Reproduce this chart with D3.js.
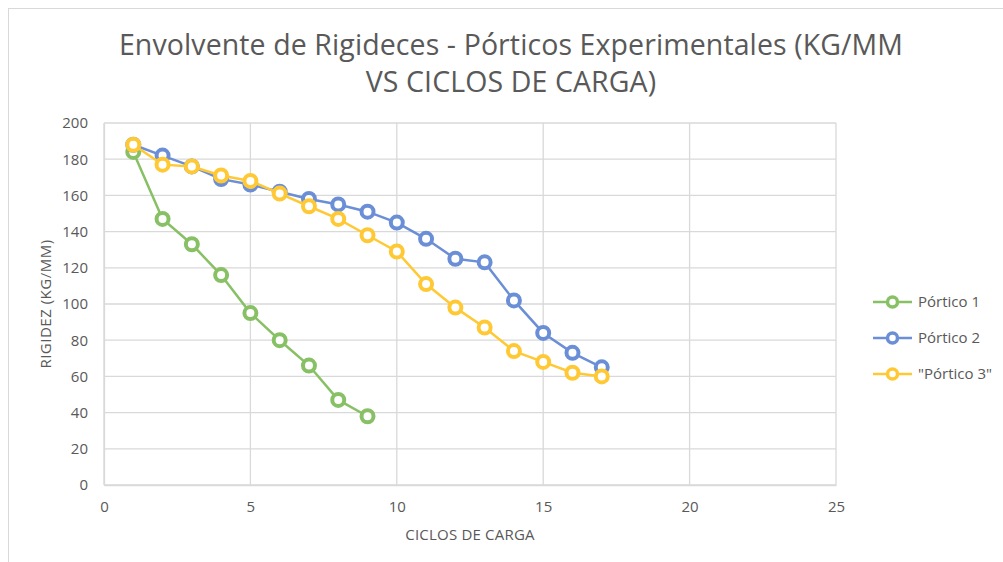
<!DOCTYPE html>
<html>
<head>
<meta charset="utf-8">
<script src="https://cdn.jsdelivr.net/npm/d3@7"></script>
<style>
  html, body { margin: 0; padding: 0; background: #fff; }
  svg { display: block; }
  text { font-family: "Open Sans", "Liberation Sans", sans-serif; fill: #595959; }
</style>
</head>
<body>
<svg id="chart" width="1003" height="562"></svg>
<script>
// Load cycles (x) and stiffness envelopes (kg/mm) per frame
const ciclosP1 = [1, 2, 3, 4, 5, 6, 7, 8, 9];
const rigidezP1 = [184, 147, 133, 116, 95, 80, 66, 47, 38];

const ciclosP2 = [1, 2, 3, 4, 5, 6, 7, 8, 9, 10, 11, 12, 13, 14, 15, 16, 17];
const rigidezP2 = [188, 182, 176, 169, 166, 162, 158, 155, 151, 145, 136, 125, 123, 102, 84, 73, 65];

const ciclosP3 = [1, 2, 3, 4, 5, 6, 7, 8, 9, 10, 11, 12, 13, 14, 15, 16, 17];
const rigidezP3 = [188, 177, 176, 171, 168, 161, 154, 147, 138, 129, 111, 98, 87, 74, 68, 62, 60];

const seriesNames = ["Pórtico 1", "Pórtico 2", "\"Pórtico 3\""];
const seriesColors = ["#88C065", "#6B8FD6", "#FFC935"];

const xTicks = [0, 5, 10, 15, 20, 25];
const yTicks = [0, 20, 40, 60, 80, 100, 120, 140, 160, 180, 200];

const titleLines = ["Envolvente de Rigideces - Pórticos Experimentales (KG/MM", "VS CICLOS DE CARGA)"];
const xTitle = "CICLOS DE CARGA";
const yTitle = "RIGIDEZ (KG/MM)";

const series = [
  { name: seriesNames[0], color: seriesColors[0], xs: ciclosP1, ys: rigidezP1 },
  { name: seriesNames[1], color: seriesColors[1], xs: ciclosP2, ys: rigidezP2 },
  { name: seriesNames[2], color: seriesColors[2], xs: ciclosP3, ys: rigidezP3 }
];

const svg = d3.select("#chart");
const W = 1003, H = 562;
const plot = { left: 104, right: 836, top: 123, bottom: 485 };

// outer frame (top and left edges)
svg.append("line").attr("x1", 8).attr("x2", W).attr("y1", 8.5).attr("y2", 8.5)
  .attr("stroke", "#d9d9d9").attr("stroke-width", 1);
svg.append("line").attr("x1", 8.5).attr("x2", 8.5).attr("y1", 8).attr("y2", H)
  .attr("stroke", "#d9d9d9").attr("stroke-width", 1);

const x = d3.scaleLinear().domain([0, 25]).range([plot.left, plot.right]);
const y = d3.scaleLinear().domain([0, 200]).range([plot.bottom, plot.top]);

// gridlines
const grid = svg.append("g");
grid.selectAll("line.h").data(yTicks).join("line")
  .attr("x1", plot.left).attr("x2", plot.right)
  .attr("y1", d => y(d)).attr("y2", d => y(d))
  .attr("stroke", "#d9d9d9").attr("stroke-width", 1.3);
grid.selectAll("line.v").data(xTicks).join("line")
  .attr("y1", plot.top).attr("y2", plot.bottom)
  .attr("x1", d => x(d)).attr("x2", d => x(d))
  .attr("stroke", "#d9d9d9").attr("stroke-width", 1.3);

// axes
const xAxis = svg.append("g").attr("transform", `translate(0,${plot.bottom})`)
  .call(d3.axisBottom(x).tickValues(xTicks).tickSize(0).tickPadding(16));
const yAxis = svg.append("g").attr("transform", `translate(${plot.left},0)`)
  .call(d3.axisLeft(y).tickValues(yTicks).tickSize(0).tickPadding(16));
[xAxis, yAxis].forEach(a => {
  a.select(".domain").attr("stroke", "#d9d9d9").attr("stroke-width", 1.3);
  a.selectAll("text").attr("font-size", 15).attr("fill", "#595959")
    .attr("font-family", "'Open Sans', sans-serif");
});

// title
svg.append("text").attr("x", 511).attr("y", 0).attr("text-anchor", "middle")
  .attr("font-size", 28.5).attr("letter-spacing", 0.1).attr("fill", "#595959")
  .selectAll("tspan").data(titleLines).join("tspan")
  .attr("x", 511).attr("y", (d, i) => 55 + i * 37).text(d => d);

// axis titles
svg.append("text").attr("x", (plot.left + plot.right) / 2).attr("y", 540)
  .attr("text-anchor", "middle").attr("font-size", 15).attr("letter-spacing", 0.2)
  .attr("fill", "#595959").text(xTitle);
svg.append("text").attr("transform", `translate(51,${(plot.top + plot.bottom) / 2}) rotate(-90)`)
  .attr("text-anchor", "middle").attr("font-size", 15).attr("letter-spacing", 0.5)
  .attr("fill", "#595959").text(yTitle);

// series lines and ring markers
const line = d3.line().x(d => x(d[0])).y(d => y(d[1]));
series.forEach(s => {
  const pts = s.xs.map((v, i) => [v, s.ys[i]]);
  const g = svg.append("g");
  g.append("path").datum(pts).attr("d", line)
    .attr("fill", "none").attr("stroke", s.color).attr("stroke-width", 2.5);
  g.selectAll("circle").data(pts).join("circle")
    .attr("cx", d => x(d[0])).attr("cy", d => y(d[1])).attr("r", 6)
    .attr("fill", "#fff").attr("stroke", s.color).attr("stroke-width", 4);
});

// legend
const legend = svg.append("g");
series.forEach((s, i) => {
  const ly = 302 + i * 36;
  legend.append("line").attr("x1", 873).attr("x2", 912).attr("y1", ly).attr("y2", ly)
    .attr("stroke", s.color).attr("stroke-width", 2.5);
  legend.append("circle").attr("cx", 892.5).attr("cy", ly).attr("r", 5)
    .attr("fill", "#fff").attr("stroke", s.color).attr("stroke-width", 3.5);
  legend.append("text").attr("x", 918).attr("y", ly + 5).attr("font-size", 15)
    .attr("fill", "#595959").text(s.name);
});
</script>
</body>
</html>
